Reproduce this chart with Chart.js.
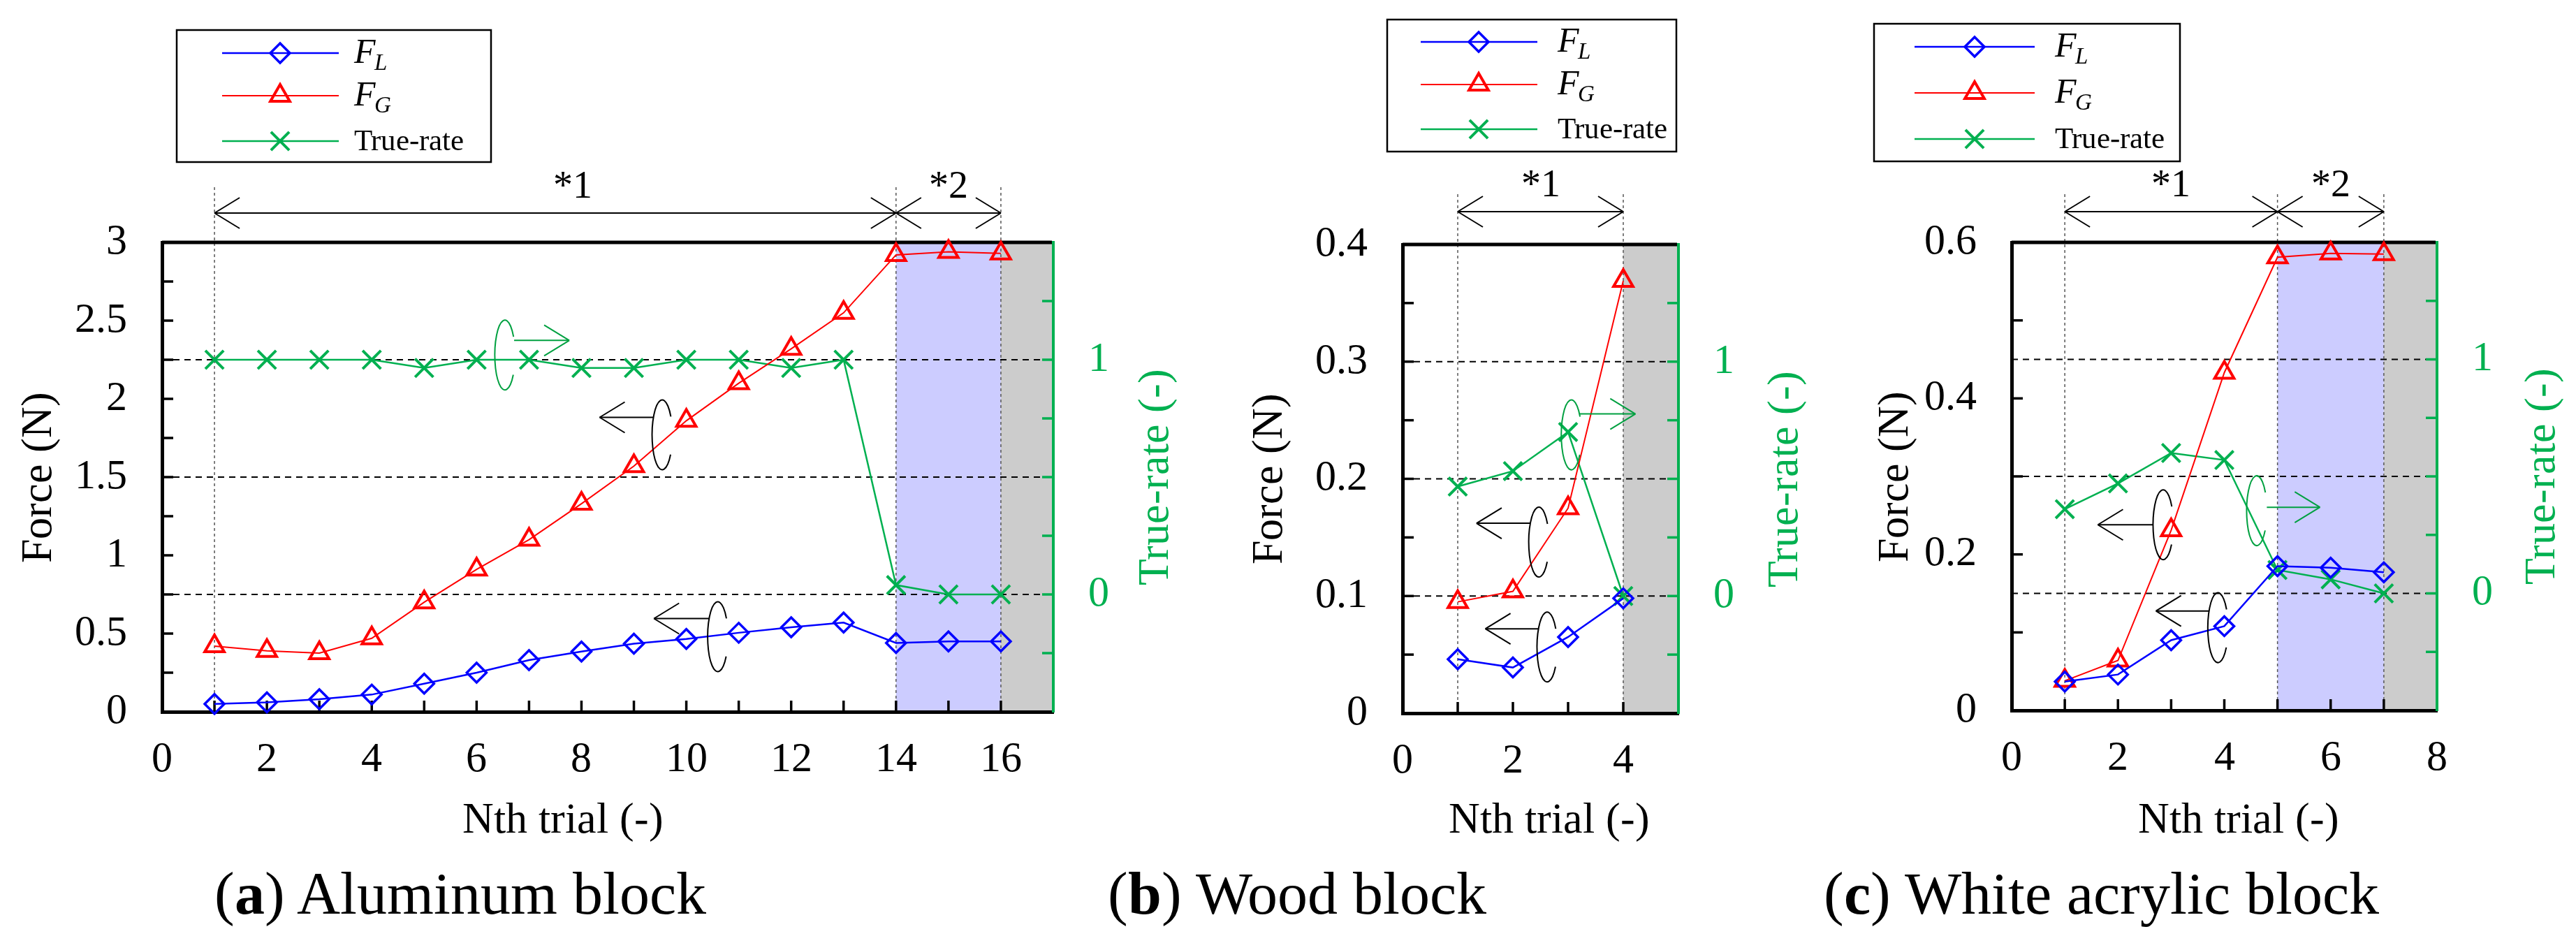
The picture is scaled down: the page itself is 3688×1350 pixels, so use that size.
<!DOCTYPE html>
<html>
<head>
<meta charset="utf-8">
<script src="https://cdn.jsdelivr.net/npm/chart.js@4.4.1/dist/chart.umd.min.js"></script>
<style>
  @font-face { font-family: 'RefSerif'; font-style: normal; font-weight: 400;
    src: local('Liberation Serif'), local('LiberationSerif'), local('Liberation Serif Regular'), local('LiberationSerif-Regular'); }
  @font-face { font-family: 'RefSerif'; font-style: italic; font-weight: 400;
    src: local('Liberation Serif Italic'), local('LiberationSerif-Italic'); }
  @font-face { font-family: 'RefSerif'; font-style: normal; font-weight: 700;
    src: local('Liberation Serif Bold'), local('LiberationSerif-Bold'); }
  html, body { margin: 0; padding: 0; background: #fff; }
  #wrap { position: relative; width: 3688px; height: 1350px; overflow: hidden; background: #fff; }
  canvas { position: absolute; top: 0; }
  .cap { position: absolute; top: 1236px; width: 1200px; text-align: center; font: 86px/1 RefSerif, 'Liberation Serif', 'Times New Roman', serif; color: #000; white-space: nowrap; }
</style>
</head>
<body>
<div id="wrap">
  <canvas id="cA" width="1740" height="1350" style="left:0px"></canvas>
  <canvas id="cB" width="890" height="1350" style="left:1740px"></canvas>
  <canvas id="cC" width="1058" height="1350" style="left:2630px"></canvas>
  <div class="cap" style="left:59px">(<b>a</b>) Aluminum block</div>
  <div class="cap" style="left:1257px">(<b>b</b>) Wood block</div>
  <div class="cap" style="left:2408px">(<b>c</b>) White acrylic block</div>
</div>
<script>
// ---- data ----
// (a) Aluminum block
const trialsA = [1, 2, 3, 4, 5, 6, 7, 8, 9, 10, 11, 12, 13, 14, 15, 16];
const fLA = [0.05, 0.06, 0.08, 0.11, 0.18, 0.25, 0.33, 0.385, 0.435, 0.465, 0.505, 0.54, 0.57, 0.44, 0.45, 0.45];
const fGA = [0.42, 0.39, 0.375, 0.47, 0.70, 0.91, 1.10, 1.33, 1.57, 1.86, 2.10, 2.32, 2.55, 2.92, 2.94, 2.93];
const rateA = [1, 1, 1, 1, 0.965, 1, 1, 0.965, 0.965, 1, 1, 0.965, 1, 0.04, 0, 0];
const xLabelsA = [0, 2, 4, 6, 8, 10, 12, 14, 16];
const yLabelsA = [0, 0.5, 1, 1.5, 2, 2.5, 3];

// (b) Wood block
const trialsB = [1, 2, 3, 4];
const fLB = [0.046, 0.039, 0.065, 0.098];
const fGB = [0.095, 0.104, 0.175, 0.369];
const rateB = [0.467, 0.533, 0.70, 0];
const xLabelsB = [0, 2, 4];
const yLabelsB = [0, 0.1, 0.2, 0.3, 0.4];

// (c) White acrylic block
const trialsC = [1, 2, 3, 4, 5, 6, 7];
const fLC = [0.037, 0.046, 0.09, 0.108, 0.185, 0.183, 0.177];
const fGC = [0.038, 0.064, 0.231, 0.433, 0.581, 0.586, 0.585];
const rateC = [0.36, 0.47, 0.60, 0.57, 0.10, 0.06, 0];
const xLabelsC = [0, 2, 4, 6, 8];
const yLabelsC = [0, 0.2, 0.4, 0.6];

const rateLabels = [0, 1];
const rateGrid = [0, 0.5, 1];
const legendNames = [['F', 'L'], ['F', 'G'], ['True-rate']];

// ---- styles ----
const FONT = "RefSerif, 'Liberation Serif', 'Times New Roman', serif";
const BLUE = '#0000ff', RED = '#ff0000', GREEN = '#00b050', LOOPGREEN = '#00a040';
const BAND_BLUE = '#ccccff', BAND_GRAY = '#cccccc';
const TICK = 16;

function near(list, v) { return list.some(t => Math.abs(t - v) < 1e-6); }
function fmt(v) { return String(Math.round(v * 1000) / 1000); }
function series(trials, vals) { return trials.map((t, i) => ({ x: t, y: vals[i] })); }

function line(ctx, x1, y1, x2, y2) {
  ctx.beginPath(); ctx.moveTo(x1, y1); ctx.lineTo(x2, y2); ctx.stroke();
}

function marker(ctx, style, r, x, y, color, bw) {
  ctx.save();
  ctx.strokeStyle = color; ctx.lineWidth = bw; ctx.setLineDash([]);
  ctx.beginPath();
  if (style === 'rectRot') {
    ctx.moveTo(x - r, y); ctx.lineTo(x, y - r); ctx.lineTo(x + r, y); ctx.lineTo(x, y + r); ctx.closePath();
  } else if (style === 'triangle') {
    const a = 2 * Math.PI / 3;
    ctx.moveTo(x, y - r);
    ctx.lineTo(x + Math.sin(a) * r, y - Math.cos(a) * r);
    ctx.lineTo(x + Math.sin(2 * a) * r, y - Math.cos(2 * a) * r);
    ctx.closePath();
  } else {
    const d = r * Math.SQRT1_2;
    ctx.moveTo(x - d, y - d); ctx.lineTo(x + d, y + d);
    ctx.moveTo(x + d, y - d); ctx.lineTo(x - d, y + d);
  }
  ctx.stroke();
  ctx.restore();
}

function arrowHead(ctx, x, y, dir) {
  line(ctx, x, y, x - dir * 36, y - 22);
  line(ctx, x, y, x - dir * 36, y + 22);
}

function makeDeco(p) {
  return {
    id: 'deco' + p.id,
    beforeDraw(chart) {
      const { ctx, chartArea: a } = chart;
      const x = chart.scales.x;
      ctx.save();
      ctx.fillStyle = '#fff';
      ctx.fillRect(0, 0, chart.width, chart.height);
      p.bands.forEach(b => {
        const x1 = x.getPixelForValue(b.from), x2 = x.getPixelForValue(b.to);
        ctx.fillStyle = b.color;
        ctx.fillRect(x1, a.top, x2 - x1, a.bottom - a.top);
      });
      ctx.restore();
    },
    beforeDatasetsDraw(chart) {
      const { ctx, chartArea: a } = chart;
      const { x, y, y2 } = chart.scales;
      ctx.save();
      // dashed grid at true-rate 0, 0.5, 1
      ctx.strokeStyle = '#000'; ctx.lineWidth = 2; ctx.setLineDash([9, 7]);
      rateGrid.forEach(r => { const py = y2.getPixelForValue(r); line(ctx, a.left, py, a.right, py); });
      // thin vertical dashed lines
      ctx.strokeStyle = '#555'; ctx.lineWidth = 1.5; ctx.setLineDash([4, 4]);
      p.vlines.forEach(v => { const px = x.getPixelForValue(v); line(ctx, px, p.vTop, px, a.bottom); });
      ctx.setLineDash([]);
      // top frame
      ctx.strokeStyle = '#000'; ctx.lineWidth = 5;
      line(ctx, a.left, a.top, a.right - 2, a.top);
      // inward ticks
      ctx.lineWidth = 3.5;
      x.ticks.forEach(t => {
        if (t.value > x.min && t.value < x.max) {
          const px = x.getPixelForValue(t.value); line(ctx, px, a.bottom, px, a.bottom - TICK);
        }
      });
      y.ticks.forEach(t => {
        if (t.value > y.min && t.value < y.max) {
          const py = y.getPixelForValue(t.value); line(ctx, a.left, py, a.left + TICK, py);
        }
      });
      ctx.strokeStyle = GREEN;
      y2.ticks.forEach(t => {
        if (t.value > y2.min && t.value < y2.max) {
          const py = y2.getPixelForValue(t.value); line(ctx, a.right, py, a.right - TICK, py);
        }
      });
      ctx.restore();
    },
    afterDraw(chart) {
      const { ctx, chartArea: a } = chart;
      const { x, y } = chart.scales;
      ctx.save();
      // brackets *1 / *2
      ctx.strokeStyle = '#000'; ctx.lineWidth = 2; ctx.fillStyle = '#000';
      ctx.font = '56px ' + FONT; ctx.textAlign = 'center'; ctx.textBaseline = 'alphabetic';
      p.spans.forEach(s => {
        const x1 = x.getPixelForValue(s.from), x2 = x.getPixelForValue(s.to);
        line(ctx, x1, p.bracketY, x2, p.bracketY);
        arrowHead(ctx, x1, p.bracketY, -1);
        arrowHead(ctx, x2, p.bracketY, 1);
        ctx.fillText(s.text, (x1 + x2) / 2 + (s.dx || 0), p.bracketY - 22);
      });
      // loops with arrows showing which axis a series uses
      p.loops.forEach(l => {
        const cx = x.getPixelForValue(l.x), cy = y.getPixelForValue(l.y);
        ctx.strokeStyle = l.color; ctx.lineWidth = 2;
        ctx.beginPath();
        ctx.ellipse(cx, cy, 14.5, 50, 0, 0.6, Math.PI * 2 - 0.55);
        ctx.stroke();
        const ay = cy + l.dy;
        const sx = cx + l.dir * 14.5 * Math.sqrt(Math.max(0, 1 - (l.dy / 50) ** 2));
        const ex = sx + l.dir * l.len;
        line(ctx, sx, ay, ex, ay);
        arrowHead(ctx, ex, ay, l.dir);
      });
      // legend box
      const L = p.legend;
      ctx.fillStyle = '#fff'; ctx.fillRect(L.x, L.y, L.w, L.h);
      ctx.strokeStyle = '#000'; ctx.lineWidth = 2.5; ctx.strokeRect(L.x, L.y, L.w, L.h);
      chart.data.datasets.forEach((ds, i) => {
        const ry = L.y + L.rows[i];
        ctx.strokeStyle = ds.borderColor; ctx.lineWidth = ds.borderWidth;
        line(ctx, L.x + L.lx1, ry, L.x + L.lx2, ry);
        marker(ctx, ds.pointStyle, ds.pointRadius, L.x + L.mx, ry, ds.borderColor, ds.pointBorderWidth);
        const name = legendNames[i];
        ctx.fillStyle = '#000'; ctx.textAlign = 'left'; ctx.textBaseline = 'alphabetic';
        if (name.length === 2) {
          ctx.font = 'italic 50px ' + FONT;
          ctx.fillText(name[0], L.x + L.tx, ry + 14);
          const w = ctx.measureText(name[0]).width;
          ctx.font = 'italic 33px ' + FONT;
          ctx.fillText(name[1], L.x + L.tx + w - 2, ry + 24);
        } else {
          ctx.font = '43px ' + FONT;
          ctx.fillText(name[0], L.x + L.tx, ry + 13);
        }
      });
      // axis titles
      const midY = (a.top + a.bottom) / 2;
      ctx.font = '62px ' + FONT; ctx.textAlign = 'center'; ctx.textBaseline = 'middle';
      [[p.yTitleX, 'Force (N)', '#000'], [p.y2TitleX, 'True-rate (-)', GREEN]].forEach(([tx, t, c]) => {
        ctx.save();
        ctx.translate(tx, midY); ctx.rotate(-Math.PI / 2);
        ctx.fillStyle = c; ctx.fillText(t, 0, 0);
        ctx.restore();
      });
      ctx.fillStyle = '#000'; ctx.textBaseline = 'alphabetic';
      ctx.fillText('Nth trial (-)', p.xTitleX, 1192);
      ctx.restore();
    }
  };
}

function makeChart(id, p) {
  const tickFont = { family: FONT, size: 60 };
  return new Chart(document.getElementById(id), {
    type: 'line',
    data: {
      datasets: [
        { label: 'FL', data: series(p.trials, p.fL), yAxisID: 'y', borderColor: BLUE, borderWidth: 2.5,
          pointStyle: 'rectRot', pointRadius: 14, pointBorderWidth: 3.5, pointBorderColor: BLUE,
          pointBackgroundColor: 'rgba(0,0,0,0)', clip: false },
        { label: 'FG', data: series(p.trials, p.fG), yAxisID: 'y', borderColor: RED, borderWidth: 2,
          pointStyle: 'triangle', pointRadius: 16, pointBorderWidth: 4, pointBorderColor: RED,
          pointBackgroundColor: 'rgba(0,0,0,0)', clip: false },
        { label: 'True-rate', data: series(p.trials, p.rate), yAxisID: 'y2', borderColor: GREEN, borderWidth: 2.5,
          pointStyle: 'crossRot', pointRadius: 18.5, pointBorderWidth: 4, pointBorderColor: GREEN,
          pointBackgroundColor: 'rgba(0,0,0,0)', clip: false }
      ]
    },
    options: {
      responsive: false,
      animation: false,
      devicePixelRatio: 1,
      layout: { padding: p.pad },
      plugins: { legend: { display: false }, tooltip: { enabled: false } },
      scales: {
        x: {
          type: 'linear', min: 0, max: p.xMax,
          grid: { display: false, drawTicks: false, tickLength: 0 },
          border: { display: true, color: '#000', width: 5 },
          ticks: { stepSize: 1, autoSkip: false, maxRotation: 0, padding: 33, color: '#000', font: tickFont,
                   callback: v => near(p.xLabels, v) ? fmt(v) : '' },
          afterFit: s => { s.height = 120; }
        },
        y: {
          position: 'left', min: 0, max: p.yMax,
          grid: { display: false, drawTicks: false, tickLength: 0 },
          border: { display: true, color: '#000', width: 5 },
          ticks: { stepSize: p.yStep, autoSkip: false, padding: 50, color: '#000', font: tickFont,
                   callback: v => near(p.yLabels, v) ? fmt(v) : '' },
          afterFit: s => { s.width = 200; }
        },
        y2: {
          position: 'right', min: -0.5, max: 1.5,
          grid: { display: false, drawTicks: false, tickLength: 0 },
          border: { display: true, color: GREEN, width: 4 },
          ticks: { stepSize: 0.25, autoSkip: false, padding: 50, color: GREEN, font: tickFont,
                   callback: v => near(rateLabels, v) ? fmt(v) : '' },
          afterFit: s => { s.width = p.y2Width; }
        }
      }
    },
    plugins: [makeDeco(p)]
  });
}

function dibujarTodo() {
  makeChart('cA', {
    id: 'A', trials: trialsA, fL: fLA, fG: fGA, rate: rateA,
    xMax: 17, xLabels: xLabelsA, yMax: 3, yStep: 0.25, yLabels: yLabelsA, y2Width: 200,
    pad: { left: 32, right: 32, top: 347, bottom: 211 },
    bands: [{ from: 14, to: 16, color: BAND_BLUE }, { from: 16, to: 17, color: BAND_GRAY }],
    vlines: [1, 14, 16], vTop: 268, bracketY: 305,
    spans: [{ from: 1, to: 14, text: '*1', dx: 25 }, { from: 14, to: 16, text: '*2' }],
    loops: [
      { x: 6.54, y: 2.28, dir: 1, dy: -21, len: 79, color: LOOPGREEN },
      { x: 9.54, y: 1.77, dir: -1, dy: -25, len: 77, color: '#000' },
      { x: 10.6, y: 0.48, dir: -1, dy: -26, len: 79, color: '#000' }
    ],
    legend: { x: 253, y: 43, w: 450, h: 189, lx1: 65, lx2: 232, mx: 148, tx: 254, rows: [33, 94, 159] },
    yTitleX: 57, y2TitleX: 1656, xTitleX: 806
  });

  makeChart('cB', {
    id: 'B', trials: trialsB, fL: fLB, fG: fGB, rate: rateB,
    xMax: 5, xLabels: xLabelsB, yMax: 0.4, yStep: 0.05, yLabels: yLabelsB, y2Width: 200,
    pad: { left: 68, right: 27, top: 350, bottom: 209 },
    bands: [{ from: 4, to: 5, color: BAND_GRAY }],
    vlines: [1, 4], vTop: 278, bracketY: 303,
    spans: [{ from: 1, to: 4, text: '*1' }],
    loops: [
      { x: 3.06, y: 0.2375, dir: 1, dy: -30, len: 80, color: LOOPGREEN },
      { x: 2.47, y: 0.146, dir: -1, dy: -27, len: 77, color: '#000' },
      { x: 2.62, y: 0.0565, dir: -1, dy: -26, len: 76, color: '#000' }
    ],
    legend: { x: 246, y: 28, w: 414, h: 189, lx1: 48, lx2: 215, mx: 131, tx: 244, rows: [32, 93, 157] },
    yTitleX: 79, y2TitleX: 817, xTitleX: 478
  });

  makeChart('cC', {
    id: 'C', trials: trialsC, fL: fLC, fG: fGC, rate: rateC,
    xMax: 8, xLabels: xLabelsC, yMax: 0.6, yStep: 0.1, yLabels: yLabelsC, y2Width: 180,
    pad: { left: 50, right: 19, top: 347, bottom: 213 },
    bands: [{ from: 5, to: 7, color: BAND_BLUE }, { from: 7, to: 8, color: BAND_GRAY }],
    vlines: [1, 5, 7], vTop: 278, bracketY: 303,
    spans: [{ from: 1, to: 5, text: '*1' }, { from: 5, to: 7, text: '*2' }],
    loops: [
      { x: 4.61, y: 0.256, dir: 1, dy: -5, len: 76, color: LOOPGREEN },
      { x: 2.85, y: 0.238, dir: -1, dy: 0, len: 79, color: '#000' },
      { x: 3.88, y: 0.106, dir: -1, dy: -24, len: 76, color: '#000' }
    ],
    legend: { x: 53, y: 34, w: 438, h: 197, lx1: 58, lx2: 230, mx: 144, tx: 259, rows: [33, 99, 165] },
    yTitleX: 85, y2TitleX: 1011, xTitleX: 575
  });
}

// load the local serif face before the canvases paint their text
Promise.all([
  document.fonts.load("60px RefSerif"),
  document.fonts.load("italic 50px RefSerif"),
  document.fonts.load("bold 60px RefSerif")
]).catch(() => {}).then(dibujarTodo);
</script>
</body>
</html>
